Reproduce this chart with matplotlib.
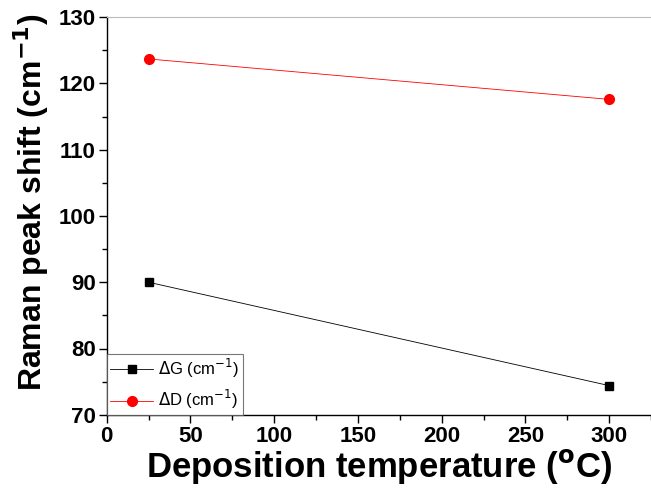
import numpy as np
import matplotlib.pyplot as plt

plt.rcParams['font.family'] = ['Liberation Sans', 'DejaVu Sans']

temp = [25, 300]
delta_g = [90.0, 74.4]
delta_d = [123.7, 117.6]

fig = plt.figure(figsize=(6.51, 4.92), dpi=100)
ax = fig.add_axes([0.164, 0.157, 0.836, 0.808])

ax.plot(temp, delta_g, color='black', lw=0.6, marker='s', ms=6, label=r'$\Delta$G (cm$^{-1}$)')
ax.plot(temp, delta_d, color='red', lw=0.6, marker='o', ms=7, label=r'$\Delta$D (cm$^{-1}$)')

ax.set_xlim(0, 322)
ax.set_ylim(70, 130)
ax.set_xticks(np.arange(0, 301, 50))
ax.set_xticks(np.arange(25, 326, 50), minor=True)
ax.set_yticks(np.arange(70, 131, 10))
ax.set_yticks(np.arange(75, 130, 10), minor=True)
ax.tick_params(which='major', direction='out', length=6, width=1, labelsize=16, pad=2)
ax.tick_params(which='minor', direction='out', length=3.5, width=1)
for lab in ax.get_xticklabels() + ax.get_yticklabels():
    lab.set_fontweight('bold')

ax.spines['right'].set_visible(False)
ax.spines['top'].set_color('#bbbbbb')
ax.spines['left'].set_linewidth(1)
ax.spines['bottom'].set_linewidth(1)

ax.set_xlabel('Deposition temperature ($\\mathbf{^{o}}$C)', fontsize=25, fontweight='bold', labelpad=0)
ax.set_ylabel('Raman peak shift (cm$\\mathbf{^{-1}}$)', fontsize=23, fontweight='bold')
ax.yaxis.set_label_coords(-0.103, 0.535)

leg = ax.legend(loc='lower left', fontsize=12, frameon=True, fancybox=False,
                edgecolor='#555555', borderaxespad=0, handlelength=2.6,
                borderpad=0.2, labelspacing=0.5, handletextpad=0.3)
leg.get_frame().set_linewidth(0.8)

fig.savefig('out.png', dpi=100)
